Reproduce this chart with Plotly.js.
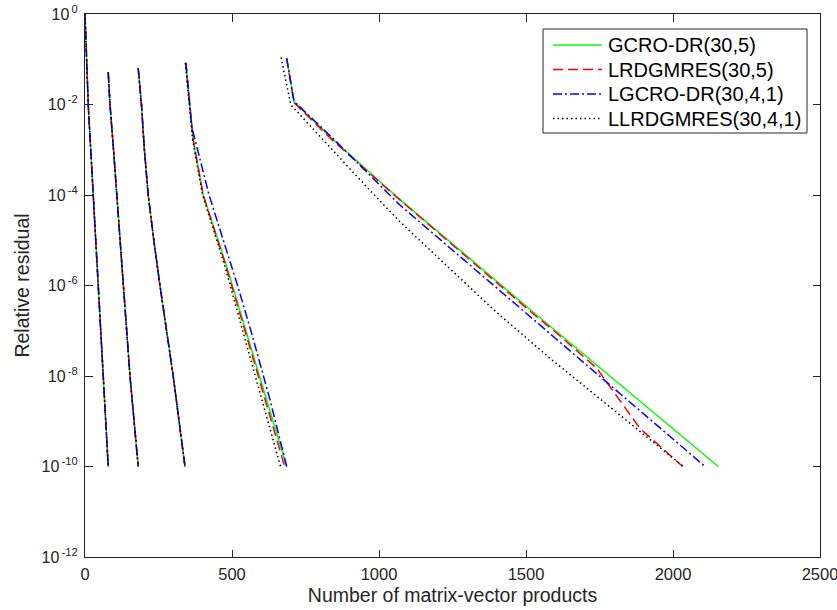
<!DOCTYPE html>
<html>
<head>
<meta charset="utf-8">
<script src="https://cdn.plot.ly/plotly-3.0.1.min.js"></script>
<style>html,body{margin:0;padding:0;background:#fff;}#chart{width:837px;height:610px;}</style>
</head>
<body>
<div id="chart"></div>
<script>
// ---- Data (x = matrix-vector products, y = relative residual) ----
// Systems 1-3: all four methods coincide
const sys1X = [0, 5, 11, 28, 45, 62, 79];
const sys1Y = [1, 7.9e-2, 1.0e-2, 1.0e-4, 1.0e-6, 1.0e-8, 1.0e-10];
const sys2X = [79, 85, 97, 108, 130, 153, 181];
const sys2Y = [5.2e-2, 1.0e-2, 1.0e-3, 1.0e-4, 1.0e-6, 1.0e-8, 1.0e-10];
const sys3X = [181, 192, 202, 215, 234, 255, 300, 340];
const sys3Y = [6.3e-2, 1.0e-2, 1.0e-3, 1.0e-4, 1.0e-5, 1.0e-6, 1.0e-8, 1.0e-10];

// System 4
const gcroS4X = [343, 357, 368, 402, 482, 550, 686];
const gcroS4Y = [8.3e-2, 1.02e-2, 1.66e-3, 1.0e-4, 2.63e-6, 8.7e-8, 1.0e-10];
const lrdS4X = [343, 357, 368, 402, 480, 547, 679];
const lrdS4Y = [8.3e-2, 1.02e-2, 1.66e-3, 1.0e-4, 2.63e-6, 8.7e-8, 1.0e-10];
const lgcroS4X = [343, 357, 363, 383, 422, 519, 567, 628, 686];
const lgcroS4Y = [8.3e-2, 1.02e-2, 3.2e-3, 1.0e-3, 1.0e-4, 1.0e-6, 8.7e-8, 3.2e-9, 1.0e-10];
const llrdS4X = [341, 355, 366, 400, 476, 539, 665];
const llrdS4Y = [8.3e-2, 1.02e-2, 1.66e-3, 1.0e-4, 2.63e-6, 8.7e-8, 1.0e-10];

// System 5
const gcroS5X = [686, 711, 845, 1066, 1514, 2154];
const gcroS5Y = [1.05e-1, 1.15e-2, 1.66e-3, 8.5e-5, 2.95e-7, 1.0e-10];
const lrdS5X = [686, 711, 845, 1066, 1514, 1599, 1740, 1888, 2033];
const lrdS5Y = [1.05e-1, 1.1e-2, 1.55e-3, 8.3e-5, 2.7e-7, 9.5e-8, 1.5e-8, 6.9e-10, 1.0e-10];
const lgcroS5X = [686, 711, 845, 1071, 1468, 1593, 2109];
const lgcroS5Y = [1.05e-1, 1.17e-2, 1.74e-3, 6.0e-5, 3.7e-7, 7.4e-8, 1.0e-10];
const llrdS5X = [667, 700, 958, 1071, 1389, 1582, 2035];
const llrdS5Y = [1.1e-1, 9.8e-3, 1.51e-4, 2.57e-5, 2.95e-7, 2.45e-8, 1.0e-10];

const seriesNames = ['GCRO-DR(30,5)', 'LRDGMRES(30,5)', 'LGCRO-DR(30,4,1)', 'LLRDGMRES(30,4,1)'];
const xTickVals = [0, 500, 1000, 1500, 2000, 2500];
const yTickVals = [1e0, 1e-2, 1e-4, 1e-6, 1e-8, 1e-10, 1e-12];
const yTickExps = ['0', '-2', '-4', '-6', '-8', '-10', '-12'];

// ---- Build traces ----
function join(parts) {
  const out = [];
  parts.forEach((p, i) => { if (i > 0) out.push(null); out.push(...p); });
  return out;
}
const styles = [
  {color: '#00FF00', dash: 'solid'},
  {color: '#FF0000', dash: '10px,5px'},
  {color: '#0000FF', dash: '9px,3px,2px,3px'},
  {color: '#000000', dash: '1.5px,3px'}
];
const s4X = [gcroS4X, lrdS4X, lgcroS4X, llrdS4X];
const s4Y = [gcroS4Y, lrdS4Y, lgcroS4Y, llrdS4Y];
const s5X = [gcroS5X, lrdS5X, lgcroS5X, llrdS5X];
const s5Y = [gcroS5Y, lrdS5Y, lgcroS5Y, llrdS5Y];

const traces = seriesNames.map((name, i) => ({
  type: 'scatter', mode: 'lines', name: name,
  x: join([sys1X, sys2X, sys3X, s4X[i], s5X[i]]),
  y: join([sys1Y, sys2Y, sys3Y, s4Y[i], s5Y[i]]),
  connectgaps: false, showlegend: false,
  line: {color: styles[i].color, dash: styles[i].dash, width: 1.5}
}));

const W = 837, H = 610;
const M = {l: 85, r: 17, t: 14, b: 53};
const PW = W - M.l - M.r, PH = H - M.t - M.b;
const px2paperX = px => (px - M.l) / PW;
const px2paperY = py => 1 - (py - M.t) / PH;

const axisColor = '#262626';
const font = 'Liberation Sans, Arial, Helvetica, sans-serif';

// ---- Legend box (drawn as shapes + text, MATLAB style) ----
const legBox = {x0: 543, x1: 807, y0: 29, y1: 133};
const legRows = [45, 69.5, 94, 118.5];
const shapes = [{
  type: 'rect', xref: 'paper', yref: 'paper',
  x0: px2paperX(legBox.x0), x1: px2paperX(legBox.x1),
  y0: px2paperY(legBox.y1), y1: px2paperY(legBox.y0),
  line: {color: axisColor, width: 1}, fillcolor: '#fff', layer: 'above'
}];
const annotations = [];
seriesNames.forEach((name, i) => {
  shapes.push({
    type: 'line', xref: 'paper', yref: 'paper',
    x0: px2paperX(553), x1: px2paperX(602),
    y0: px2paperY(legRows[i]), y1: px2paperY(legRows[i]),
    line: {color: styles[i].color, dash: styles[i].dash, width: 1.5}, layer: 'above'
  });
  annotations.push({
    xref: 'paper', yref: 'paper', x: px2paperX(606), y: px2paperY(legRows[i]),
    xanchor: 'left', yanchor: 'middle', showarrow: false, text: name,
    font: {family: font, size: 20, color: '#000'}
  });
});

const layout = {
  width: W, height: H,
  margin: {l: M.l, r: M.r, t: M.t, b: M.b, pad: 0},
  paper_bgcolor: '#fff', plot_bgcolor: '#fff',
  font: {family: font, color: axisColor, size: 16},
  showlegend: false,
  shapes: shapes,
  annotations: annotations,
  xaxis: {
    range: [0, 2500], tickmode: 'array', tickvals: xTickVals,
    ticktext: xTickVals.map(String),
    ticks: 'inside', ticklen: 7.5, tickcolor: axisColor, tickwidth: 1,
    showline: true, linecolor: axisColor, linewidth: 1, mirror: 'ticks',
    showgrid: false, zeroline: false,
    tickfont: {size: 16.5, color: axisColor},
    ticklabelstandoff: 2, ticklabeloverflow: 'allow',
    title: {text: 'Number of matrix-vector products', font: {size: 19.5, color: axisColor}, standoff: 6}
  },
  yaxis: {
    type: 'log', range: [-12, 0], tickmode: 'array', tickvals: yTickVals,
    ticktext: yTickExps.map(e => '10<sup>\u2009' + e + '</sup>'),
    ticks: 'inside', ticklen: 7.5, tickcolor: axisColor, tickwidth: 1,
    showline: true, linecolor: axisColor, linewidth: 1, mirror: 'ticks',
    showgrid: false, zeroline: false,
    tickfont: {size: 16, color: axisColor},
    ticklabelstandoff: 3, ticklabeloverflow: 'allow',
    title: {text: 'Relative residual', font: {size: 19.5, color: axisColor}, standoff: 6}
  }
};

Plotly.newPlot('chart', traces, layout, {displayModeBar: false, staticPlot: true});
</script>
</body>
</html>
